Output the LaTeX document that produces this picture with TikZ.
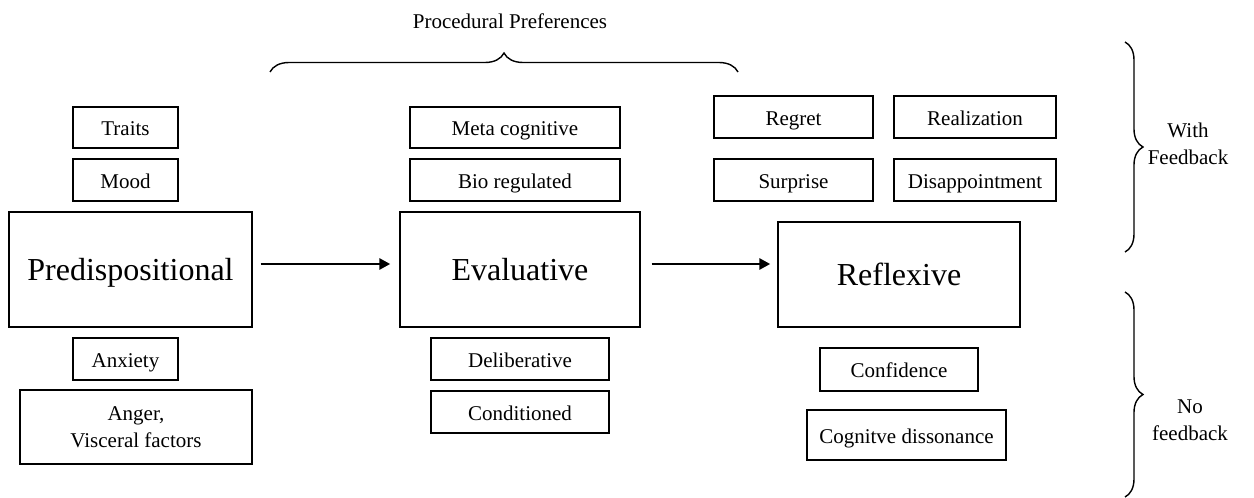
\documentclass[tikz,border=0pt]{standalone}
\usepackage{fontspec}
\setmainfont{Liberation Serif}
\usetikzlibrary{arrows.meta,decorations.pathreplacing}
\begin{document}
\begin{tikzpicture}[x=1pt,y=-1pt,
  box/.style={draw,line width=1.4pt,rectangle,inner sep=0pt,align=center,text height=17pt,text depth=1pt,font=\fontsize{21}{27}\selectfont},
  twoline/.style={draw,line width=1.4pt,rectangle,inner sep=0pt,align=center,font=\fontsize{21}{27}\selectfont},
  bigbox/.style={box,text height=25pt,text depth=3.4pt,font=\fontsize{32}{36}\selectfont},
  arr/.style={line width=2.8pt,-{Triangle[length=11pt,width=11pt]}},
  brc/.style={decorate,line width=1.4pt,decoration={brace,amplitude=19pt}},
  lbl/.style={align=center,font=\fontsize{21}{27}\selectfont}]
\useasboundingbox (0,0) rectangle (1254,498);
% left column
\node[box,minimum width=105pt,minimum height=41pt] (traits) at (125.5,127.5) {Traits};
\node[box,minimum width=105pt,minimum height=42pt] (mood) at (125.5,180) {Mood};
\node[bigbox,minimum width=243pt,minimum height=115pt] (pred) at (130.5,269.5) {Predispositional};
\node[box,minimum width=105pt,minimum height=42pt] (anx) at (125.5,359) {Anxiety};
\node[twoline,minimum width=232pt,minimum height=74pt] (anger) at (136,427) {Anger,\\Visceral factors};
% middle column
\node[box,minimum width=210pt,minimum height=41pt] (meta) at (515,127.5) {Meta cognitive};
\node[box,minimum width=210pt,minimum height=42pt] (bio) at (515,180) {Bio regulated};
\node[bigbox,minimum width=240pt,minimum height=115pt] (eval) at (520,269.5) {Evaluative};
\node[box,minimum width=178pt,minimum height=42pt] (delib) at (520,359) {Deliberative};
\node[box,minimum width=178pt,minimum height=42pt] (cond) at (520,412) {Conditioned};
% right column
\node[box,minimum width=159pt,minimum height=42pt] (regret) at (793.5,117) {Regret};
\node[box,minimum width=162pt,minimum height=42pt] (real) at (975,117) {Realization};
\node[box,minimum width=159pt,minimum height=42pt] (surp) at (793.5,180) {Surprise};
\node[box,minimum width=162pt,minimum height=42pt] (disap) at (975,180) {Disappointment};
\node[bigbox,minimum width=242pt,minimum height=105pt] (refl) at (899,274.5) {Reflexive};
\node[box,minimum width=158pt,minimum height=43pt] (conf) at (899,369.5) {Confidence};
\node[box,minimum width=199pt,minimum height=50pt] (cogd) at (906.5,435) {Cognitve dissonance};
% arrows
\draw[arr] ([xshift=8pt,yshift=5.5pt]pred.east) -- ([xshift=-9pt,yshift=5.5pt]eval.west);
\draw[arr] ([xshift=11pt,yshift=5.5pt]eval.east) -- ([xshift=-7pt,yshift=10.5pt]refl.west);
% braces
\coordinate (tb1) at (270,72);
\coordinate (tb2) at (738,72);
\draw[brc] (tb1) -- (tb2);
\node[lbl] (proc) at (510,21) {Procedural Preferences};
\coordinate (rb1) at (1125,42);
\coordinate (rb2) at (1125,252);
\draw[brc,decoration={amplitude=18pt}] (rb1) -- (rb2);
\node[lbl] (withfb) at (1188,144) {With\\Feedback};
\coordinate (rb3) at (1125,292);
\coordinate (rb4) at (1125,497);
\draw[brc,decoration={amplitude=18pt}] (rb3) -- (rb4);
\node[lbl] (nofb) at (1190,420) {No\\feedback};
\end{tikzpicture}
\end{document}
